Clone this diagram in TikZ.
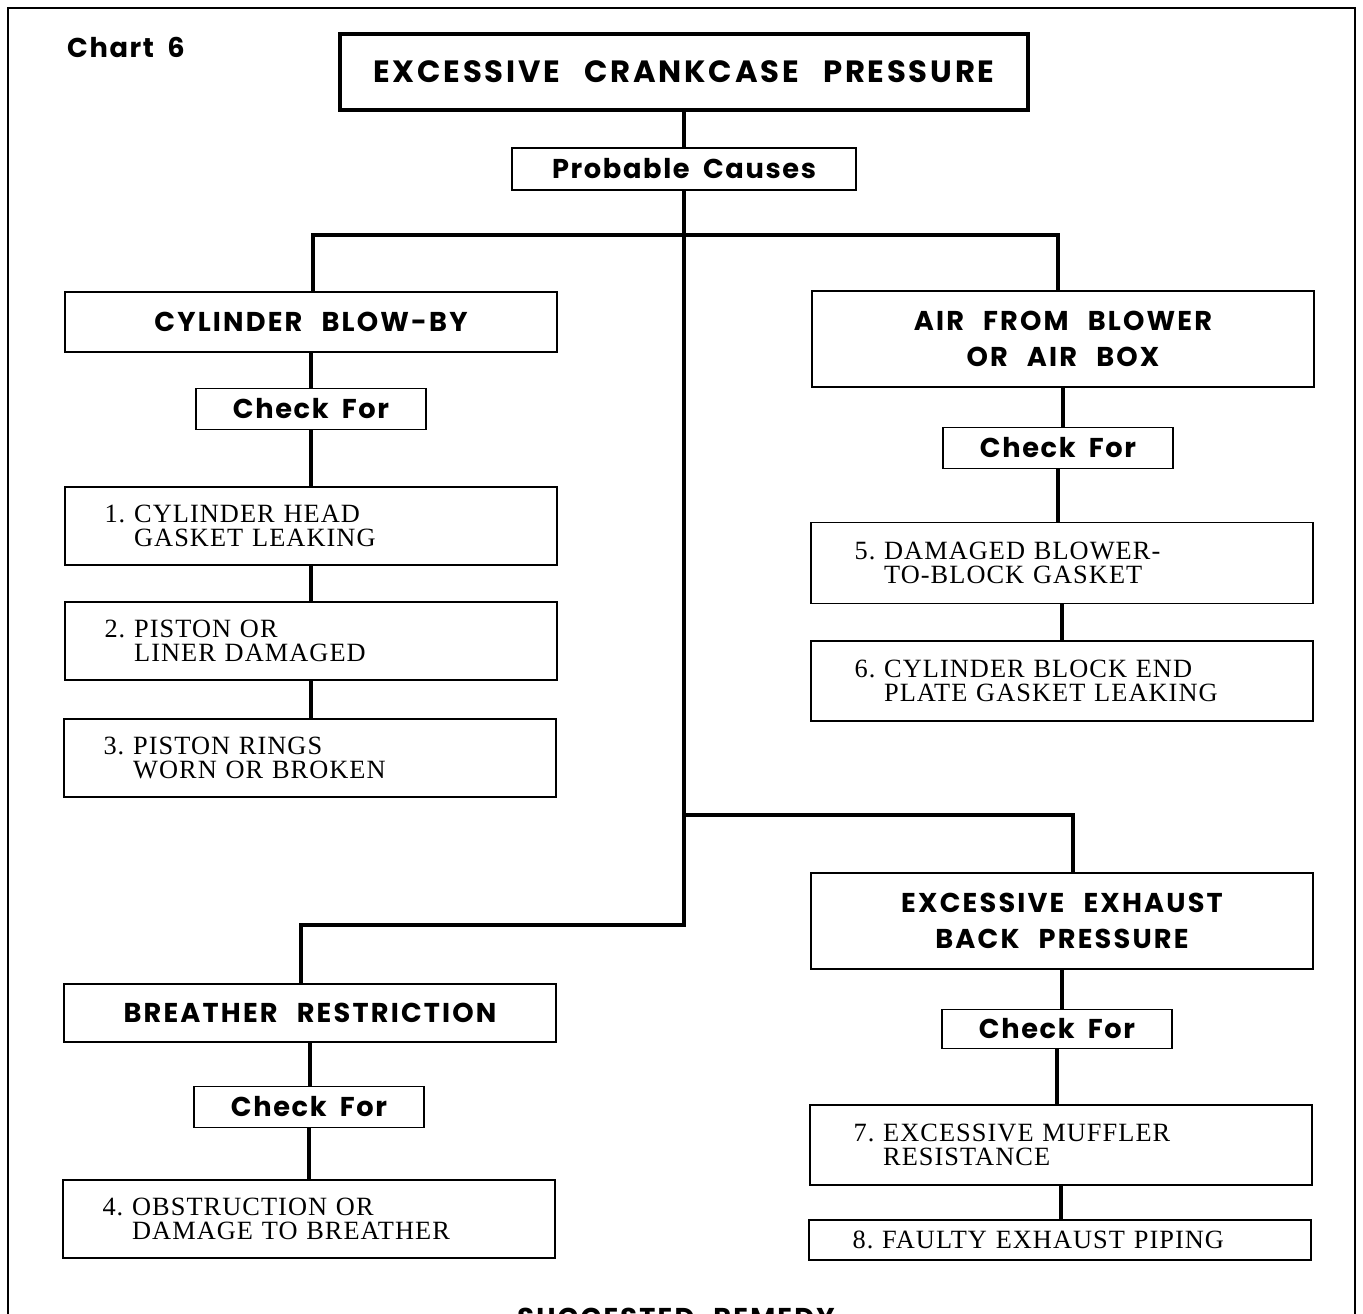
\documentclass[tikz,border=0pt]{standalone}
\usepackage{fontspec}
\setmainfont{Liberation Serif}
\newfontfamily\itemfont{Liberation Serif}[LetterSpace=4]
\newfontfamily\headfont{Poppins}[LetterSpace=8,WordSpace=2.4]
\newfontfamily\titlefont{Poppins}[LetterSpace=9,WordSpace=2.6]
\newfontfamily\chkfont{Poppins}[LetterSpace=6,WordSpace=1.8]
\newcommand\chkitem[3]{#1\ #2\\\phantom{#1\ }#3}
\tikzset{gbox/.style={
    rectangle,
    draw,
    line width=1.1pt,
    inner sep=0pt
  },
  tbox/.style={gbox,line width=1.8pt,minimum width=13.76cm,minimum height=1.52cm,
    font=\titlefont\bfseries\fontsize{17.5}{20}\selectfont},
  hbox/.style={gbox,align=center,minimum width=9.86cm,
    font=\headfont\bfseries\fontsize{15.5}{20.5}\selectfont},
  rhbox/.style={hbox,minimum width=10.06cm,minimum height=1.92cm},
  pbox/.style={gbox,minimum width=6.88cm,minimum height=0.84cm,
    font=\chkfont\bfseries\fontsize{15.5}{18}\selectfont},
  cbox/.style={pbox,minimum width=4.6cm,minimum height=0.82cm},
  ibox/.style={gbox,align=left,minimum height=1.56cm,
    font=\itemfont\fontsize{15}{13.8}\selectfont},
  libox/.style={ibox,text width=8.26cm,inner xsep=0.8cm},
  ribox/.style={ibox,text width=8.3cm,inner xsep=0.88cm},
  conn/.style={line width=2.4pt},
  frame/.style={line width=1.2pt}
}
\begin{document}
\begin{tikzpicture}[x=0.02cm,y=-0.02cm]
  \useasboundingbox (0,0) rectangle (1363,1313);
  \draw[frame] (8,1340) -- (8,8) -- (1355,8) -- (1355,1340);
  \node [anchor=west,font=\chkfont\bfseries\fontsize{15.5}{18}\selectfont] (chart) at (61,47) {Chart 6};
  \node [tbox] (title) at (684,72) {EXCESSIVE CRANKCASE PRESSURE};
  \node [pbox] (prob) at (684,169) {Probable Causes};
  % left column
  \node [hbox,minimum height=1.2cm] (cyl) at (311,322) {CYLINDER BLOW-BY};
  \node [cbox] (chk1) at (311,409) {Check For};
  \node [libox] (it1) at (311,526) {\chkitem{1.}{CYLINDER HEAD}{GASKET LEAKING}};
  \node [libox] (it2) at (311,641) {\chkitem{2.}{PISTON OR}{LINER DAMAGED}};
  \node [libox] (it3) at (310,758) {\chkitem{3.}{PISTON RINGS}{WORN OR BROKEN}};
  % right column
  \node [rhbox] (air) at (1063,339) {AIR FROM BLOWER\\OR AIR BOX};
  \node [cbox] (chk2) at (1058,448) {Check For};
  \node [ribox,minimum height=1.62cm] (it5) at (1062,563) {\chkitem{5.}{DAMAGED BLOWER-}{TO-BLOCK GASKET}};
  \node [ribox,minimum height=1.6cm] (it6) at (1062,681) {\chkitem{6.}{CYLINDER BLOCK END}{PLATE GASKET LEAKING}};
  % exhaust
  \node [rhbox] (exh) at (1062,921) {EXCESSIVE EXHAUST\\BACK PRESSURE};
  \node [cbox,minimum height=0.78cm] (chk3) at (1057,1029) {Check For};
  \node [ribox,minimum height=1.6cm] (it7) at (1061,1145) {\chkitem{7.}{EXCESSIVE MUFFLER}{RESISTANCE}};
  \node [ribox,minimum height=0.8cm] (it8) at (1060,1240) {8.\ FAULTY EXHAUST PIPING};
  % breather
  \node [hbox,minimum height=1.16cm] (brth) at (310,1013) {BREATHER RESTRICTION};
  \node [cbox] (chk4) at (309,1107) {Check For};
  \node [libox] (it4) at (309,1219) {\chkitem{4.}{OBSTRUCTION OR}{DAMAGE TO BREATHER}};
  \node [font=\headfont\bfseries\fontsize{15.5}{18}\selectfont] (remedy) at (676,1318) {SUGGESTED REMEDY};
  % connectors
  \coordinate (j1) at (684,235);
  \coordinate (j2) at (684,815);
  \coordinate (j3) at (684,925);
  \coordinate (bx) at (301,0);
  \coordinate (ex) at (1073,0);
  \draw[conn] (title) -- (prob);
  \draw[conn] (prob) -- (j1) -| (cyl.north -| 313,0);
  \draw[conn] (j1) -| (air.north -| 1058,0);
  \draw[conn] (j1) -- (j2) -- (j3) -| (bx |- brth.north);
  \draw[conn] (j2) -| (ex |- exh.north);
  \foreach \a/\b in {cyl/chk1,chk1/it1,it1/it2,it2/it3,
                     air/chk2,chk2/it5,it5/it6,
                     exh/chk3,chk3/it7,it7/it8,
                     brth/chk4,chk4/it4}
    \draw[conn] (\a.south) -- (\a.south |- \b.north);
\end{tikzpicture}
\end{document}
